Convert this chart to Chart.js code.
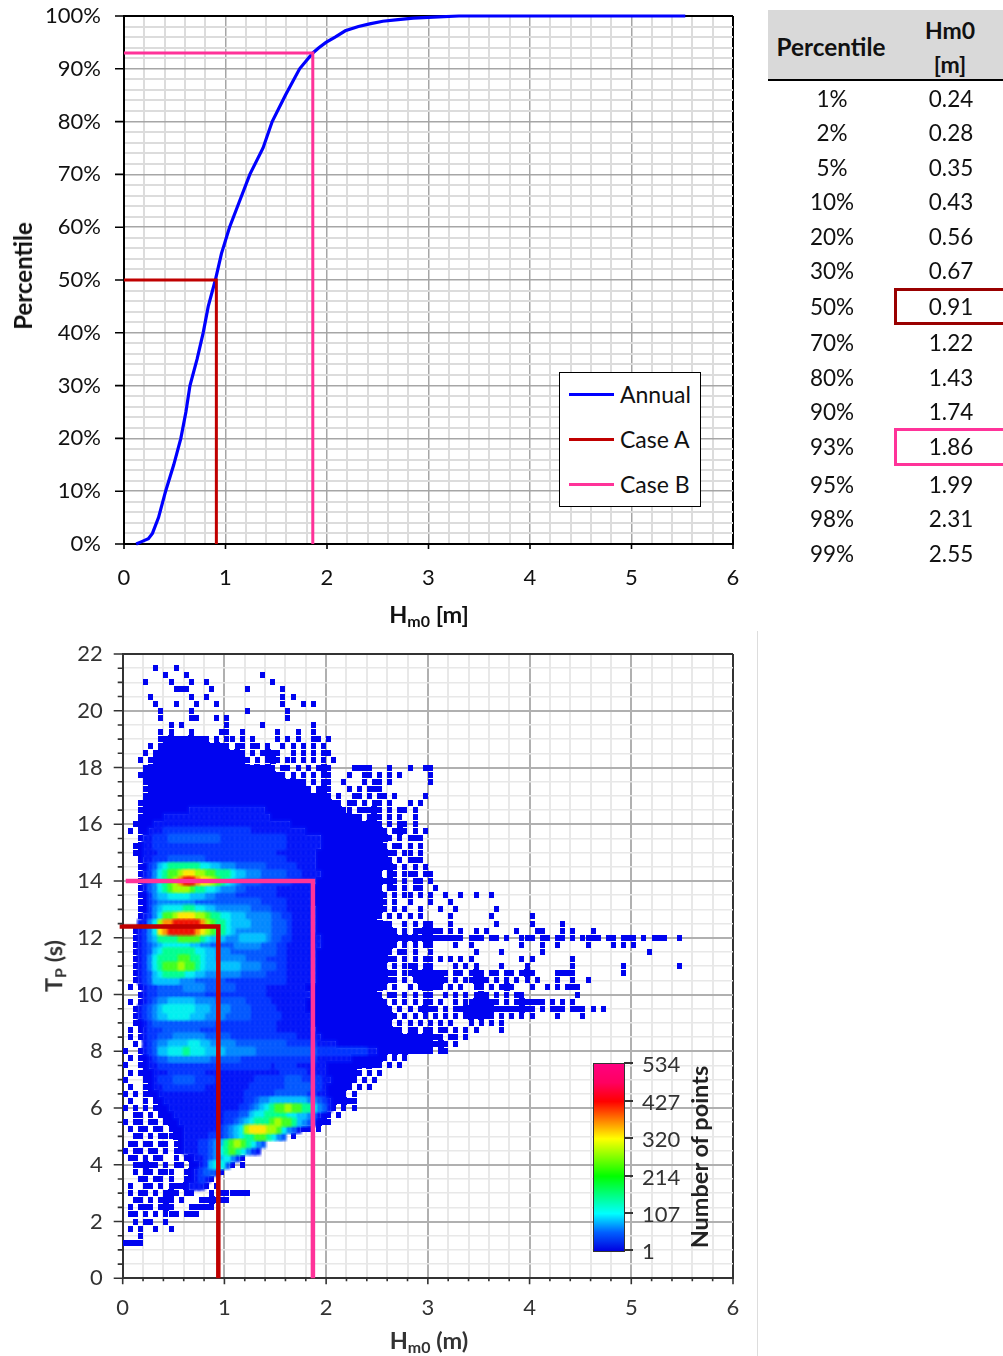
<!DOCTYPE html>
<html><head><meta charset="utf-8">
<script src="https://cdn.jsdelivr.net/npm/chart.js@4"></script>
<style>
html,body{margin:0;padding:0;background:#fff;overflow:hidden}
#page{position:relative;width:1003px;height:1356px;font-family:Lato,sans-serif;color:#111;overflow:hidden}
canvas.c{position:absolute;left:0}
.t{position:absolute;white-space:nowrap;line-height:1}
.ctr{transform:translate(-50%,-50%)}
.rot{transform:translate(-50%,-50%) rotate(-90deg)}
b{font-weight:700}
sub{font-size:.68em;vertical-align:baseline;position:relative;top:.28em}
</style></head><body><div id="page">
<canvas class="c" id="cdf" width="1003" height="630" style="top:0;width:1003px;height:630px"></canvas>
<canvas class="c" id="den" width="1003" height="726" style="top:630px;width:1003px;height:726px"></canvas>
</div>
<script>
// ---- data ----
const annualHm0 = [0.12,0.18,0.24,0.28,0.34,0.41,0.49,0.56,0.61,0.65,0.72,0.78,0.83,0.9,0.96,1.04,1.14,1.24,1.37,1.46,1.59,1.73,1.86,1.92,1.99,2.08,2.18,2.31,2.42,2.55,2.7,2.85,3.05,3.3,4.5,5.53];
const annualPct = [0,0.5,1,2,5,10,15,20,25,30,35,40,45,50,55,60,65,70,75,80,85,90,93,94,95,96,97.2,98,98.5,99,99.3,99.6,99.8,100,100,100];
const caseAHm0 = [0,0.91,0.91], caseAPct = [50,50,0];
const caseBHm0 = [0,1.86,1.86], caseBPct = [93,93,0];
const caseATpHm0 = [-0.03,0.94,0.94], caseATp = [12.4,12.4,0];
const caseBTpHm0 = [0.03,1.87,1.87], caseBTp = [14,14,0];
const tablePercentiles = ['1%','2%','5%','10%','20%','30%','50%','70%','80%','90%','93%','95%','98%','99%'];
const tableHm0 = ['0.24','0.28','0.35','0.43','0.56','0.67','0.91','1.22','1.43','1.74','1.86','1.99','2.31','2.55'];
const colorbarLabels = ['534','427','320','214','107','1'];
// density classes; one row per 0.25 s of Tp from 21.5 s down, one column per 0.05 m of Hm0, '.' = empty
const densityTopTp = 21.5, densityTpStep = 0.25, densityHm0Step = 0.05;
const densityRows = [
"......1... 1",
"........1. ..1....... .......1",
"....1....1 ...1..1... .........1",
".......... 111....1.. ....1..... .1",
".....1.... ...1..1... .......... .1.1",
"......1... 1...1...1. .......... .1...1.1",
".......1.. ...1...... ....1..... ..1",
".......1.. ...11...1. 1......... ..1",
".........1 .1........ 1......1.. .......1",
".......1.1 ...1.....1 1..1...... 1...1..1",
".......111 1111111.1. 11.1.1.... 1.1.1..11. 1",
".....1.111 1111111111 1.11.11.1. .1.1.1.1.1",
"....1.1111 1111111111 1111.1.111 1..1.1.1.1 1",
"...1.11111 1111111111 11111.1.11 1.11.1.1.1 .1",
"....111111 1111111111 1111111111 .11.1.1.11 1....1111. ..1...1..1 1",
"...1111111 1111111111 1111111111 11.1.1.1.1 1...1..11. 1.1.1..... 1",
"....111111 1111111111 1111111111 111111.1.1 1..1...1.1 1.1....... 1",
"....111111 1111111111 1111111111 1111111.11 1...1.1.11 1.........",
"....111111 1111111111 1111111111 1111111111 1.1..11.1. 11.1.....1",
"...1111111 1111111111 1111111111 1111111111 111.11.1.1 1.1...1.1.",
"...1111111 1112222222 2222222211 1111111111 11111.1111 1.1.11.1..",
"...1111122 2222222222 2222222221 1111111111 1111111.11 1.1.1..1..",
"..11112222 2222222222 2222222222 2221111111 1111111111 1.1.11.1..",
".1.1122233 3333333333 3333322222 2222221111 1111111111 11.111.1.1",
"...1223334 4444444443 3333333333 3322222221 1111111111 111.1.111.",
"..11223333 3333333333 3333333333 3322222221 1111111111 11.11.1.1.",
"..11222333 3333333333 3333333333 2222222211 1111111111 1111.11.1.",
"...1223334 4444443333 3333333333 3322222211 1111111111 111.1.111.",
"...1134678 8888877665 5544444433 3333222211 1111111111 1111.1.1.1",
"...1235789 9abbaa9988 8766555444 4433322221 1111111111 1.11.111.1 1",
"...1235789 acddcbba98 7654444333 3332222211 1111111111 1111.1.11. 1",
"...1245789 aaa9887765 5544333333 2222222111 1111111111 1.11.1.11. .1",
"...1135667 7776665544 4433333333 2222222111 1111111111 11.1.11.1. 1..1..1..1 ..1",
"...1134555 5555444444 4444444333 3322222111 1111111111 11.1..1... 1...1.....",
"...1135677 7788776655 5555544443 3322222211 1111111111 11.1.1..1. ..1..1.... ...1",
"...1235799 abbbaa9887 7666555554 4332222211 1111111111 1.1.1.1.1. ....1..... ..1....... 1",
"...2257acc dddddca988 7666655554 4432222211 1111111111 111..1.1.1 1...1..... ...1...... 1.....1...",
"..12357bcd ddddcba988 7655555554 4432222211 1111111111 1111.1.111 111.1.1..1 .1.....1.. .11...1.1. ..1.......",
"..12356888 8999987666 5556666654 4332222221 1111111111 1111111111 1111111.11 1.11.1..11 1.11.11.1. 1111.11.11 1.1.111..1",
"..12345677 7776655444 4455555444 3322222221 1111111111 1111.1.1.1 1....1..1. ........1. ..1..1.... .1....1.1. 1",
"..12346788 8888776655 5444444444 3322222211 1111111111 111.11.1.. 1........1 ....1..... ..1....... .......... ...1",
"..12357888 8998876655 5555444433 3322222211 1111111111 1111.1.1.1 1.1.1.1.1. ........1. 1.......1.",
"..12357899 9a99876666 6665555444 3322222211 1111111111 11.1.111.1 1....1.1.1 ....1....1 ........1. ........1. .........1",
"..12346788 8877665555 5554444433 3322222211 1111111111 1111.11111 1111.11.11 1.11.11.11 1....1111. ........1.",
"..12346666 6555444444 3333333333 3322222211 1111111111 1111.1.111 1111.1.111 11.1.1.1.1 .1...1..1. .1",
".1.1233444 4455554444 4433333322 2222221111 1111111111 11.1..1.11 111.1.1..1 1.1.111... 1..1.1.111",
"...1233444 4444443333 3333333322 2222222111 1111111111 1.11.1.1.1 1..1.1.1.1 11.1.1.11. .........1",
".1.1234556 6666555544 4444333332 2222221111 1111111111 11.1.1.1.1 1.1..1.111 1111.1.111 111.1.1.1.",
"..12345677 7777666555 5444433333 2222221111 1111111111 111.1.1.11 11.1.11111 1111111111 1.1.111.11 1.1.1",
"..12345667 7776665555 4444433333 3222222111 1111111111 1111.1.1.1 .1.1.1.111 111.1.1.1. 1....1.... 1",
"..11234444 4444444433 3333333333 2222222111 1111111111 111.1.1.1. 1.1.1...1. 1.1.1",
".1.1233344 4444433333 3333333333 2222222211 1111111111 11111.11.1 1.11.1.1.1 ....1",
".1.1233444 5555554444 4333333333 3333222221 1111111111 1111111111 111.11.1",
"..1.234556 6667766555 5544444444 4433333322 2211111111 1111111111 1111.1",
"1..1234667 7787776666 5555554444 4444444433 3333333322 1111111111 1.11",
".1.1123445 5555555444 4443333333 3333333322 2222211111 11.1.1",
"1..1122333 3333333333 3333333332 3333222222 1111111111 1.1.1",
".1.1112223 3333332222 2222222222 2333332222 1111111.1. 1",
"1...112333 4444333322 2222223333 3344433332 211111.1.1",
".1..112233 3333332222 2222233333 3344444332 11111.1.1.",
"1.1.111222 2222222222 2222333333 4444443322 1111.1",
".1..1.1122 2222222222 2222334556 6666665543 211111",
"1.1.1.1112 2222222222 2223345678 99a9988754 21.1.1",
"..11.1.111 2222222222 3334467788 8877665421 1.1",
"1.11.11.11 1222222222 3345678889 a998654211 1",
".1.11.11.1 1122222223 4567abbbaa 9754211.1.",
"..11.1.111 1122222333 4567889987 54.1",
".11.11.11. 1122233456 89a98754",
"1.11.11.1. 1122233457 8987532",
".11.1.11.. 1.11223456 7531",
"..11111.1. 11.1123677 41.1",
"..1.11.111 ..11234431",
"...11.11.1 ..112321",
".1..11.1.1 1112221.1.",
".1.11.1.11 1.11...1.1 11111",
"..11.1.111 .1...11111 1",
".1.111.111 ...11111",
".11.1.1.11 1.111",
"..1.11..1.",
".1.1..1..1",
"...1",
"1111"
];
// ---- styling ----
const levelCodes = '123456789abcd';
const levelColors = ['#0004f0','#0014f8','#0034ff','#0058ff','#0088ff','#00c0ff','#00f0f0','#00ff90','#40ff20','#a0ff00','#ffe800','#ff9000','#f01000'];
const FONT = 'Lato, sans-serif';
const page = document.getElementById('page');

function cellImage(color, kind){
  const c = document.createElement('canvas');
  const g = c.getContext('2d');
  if (kind==='soft'){ c.width=10; c.height=12; g.filter='blur(0.8px)'; g.fillStyle=color; g.fillRect(1.5,1.5,7,9); }
  else if (kind==='dot'){ c.width=5; c.height=6; g.fillStyle=color; g.fillRect(0,0,5,6); }
  else { c.width=6; c.height=8; g.fillStyle=color; g.fillRect(0,0,6,8); }
  return c;
}
const near = (v,m) => Math.abs(v/m - Math.round(v/m)) < 1e-6;
const tickPlugin = {
  id:'axisTicks',
  afterDraw(chart, args, o){
    const {ctx, chartArea:a, scales:{x,y}} = chart;
    ctx.save(); ctx.strokeStyle = o.color; ctx.lineWidth = 1.6;
    ctx.beginPath();
    x.ticks.forEach(t => { const major = near(t.value,1), len = major ? o.xMajor : o.xMinor;
      if (!len) return; const p = x.getPixelForValue(t.value); ctx.moveTo(p,a.bottom); ctx.lineTo(p,a.bottom+len); });
    y.ticks.forEach(t => { const major = near(t.value,o.yEvery), len = major ? o.yMajor : o.yMinor;
      if (!len) return; const p = y.getPixelForValue(t.value); ctx.moveTo(a.left,p); ctx.lineTo(a.left-len,p); });
    ctx.stroke(); ctx.restore();
  }
};
function axis(min,max,step,every,lab,o){
  const isEdge = v => Math.abs(v-min)<1e-6 || Math.abs(v-max)<1e-6;
  return {
    type:'linear', min, max,
    ticks:{stepSize:step, autoSkip:false, maxRotation:0, padding:o.pad, color:o.color,
      font:{family:FONT,size:o.size},
      callback:v => near(v,every) ? lab(Math.round(v)) : ''},
    grid:{drawTicks:false,
      color:c => isEdge(c.tick.value) ? o.frame : near(c.tick.value,every) ? o.major : o.minor,
      lineWidth:c => isEdge(c.tick.value) ? 2 : near(c.tick.value,every) ? o.majorW : o.minorW},
    border:{display:true,color:o.frame,width:2},
    afterFit:s => { if (o.w) s.width=o.w; if (o.h) s.height=o.h; s.paddingTop=0; s.paddingBottom=0; s.paddingLeft=0; s.paddingRight=0; }
  };
}
function line(label,xs,ys,color,width){
  return {type:'line',label,data:xs.map((x,i)=>({x,y:ys[i]})),borderColor:color,borderWidth:width,
    pointRadius:0,tension:0,fill:false,clip:false,order:0,borderJoinStyle:'miter',borderCapStyle:'butt'};
}
// ---- chart 1 ----
new Chart(document.getElementById('cdf'),{
  type:'scatter',
  data:{datasets:[
    line('Case B',caseBHm0,caseBPct,'#ff3399',3),
    line('Case A',caseAHm0,caseAPct,'#c00000',3),
    line('Annual',annualHm0,annualPct,'#0000ff',3.2)
  ]},
  options:{responsive:false,animation:false,
    layout:{padding:{left:0,right:270,top:16,bottom:0}},
    plugins:{legend:{display:false},tooltip:{enabled:false},
      axisTicks:{color:'#000',xMajor:5,xMinor:0,yMajor:9,yMinor:0,yEvery:10}},
    scales:{
      x:axis(0,6,0.2,1,v=>String(v),{pad:21,color:'#111',size:22,frame:'#000',major:'#a6a6a6',minor:'#dcdcdc',majorW:1.5,minorW:2,h:86}),
      y:axis(0,100,2,10,v=>v+'%',{pad:23,color:'#111',size:22,frame:'#000',major:'#a6a6a6',minor:'#dcdcdc',majorW:1.5,minorW:2,w:124})
    }},
  plugins:[tickPlugin]
});
// ---- chart 2 ----
const cellGrid = densityRows.map(r => r.replace(/ /g,''));
const filled = (r,c) => r>=0 && r<cellGrid.length && c>=0 && c<cellGrid[r].length && cellGrid[r][c]!=='.';
const cellsByLevel = levelCodes.split('').map(()=>[]);
const looseCells = [];
cellGrid.forEach((row,r)=>{
  row.split('').forEach((ch,c)=>{
    const lv = levelCodes.indexOf(ch);
    if (lv<0) return;
    const p = {x:(c+0.5)*densityHm0Step, y:densityTopTp-r*densityTpStep};
    const solid = filled(r,c-1)&&filled(r,c+1)&&filled(r-1,c)&&filled(r+1,c);
    (lv===0 && !solid ? looseCells : cellsByLevel[lv]).push(p);
  });
});
const cellSets = cellsByLevel.map((pts,i)=>({
  type:'scatter',label:'class '+levelCodes[i],data:pts,pointStyle:cellImage(levelColors[i],i>0?'soft':'solid'),
  pointRadius:3,pointHoverRadius:3,showLine:false,order:30-i
}));
cellSets.push({type:'scatter',label:'sparse',data:looseCells,pointStyle:cellImage(levelColors[0],'dot'),pointRadius:3,showLine:false,order:31});
new Chart(document.getElementById('den'),{
  type:'scatter',
  data:{datasets:[
    line('Case B',caseBTpHm0,caseBTp,'#ff3399',4.5),
    line('Case A',caseATpHm0,caseATp,'#c00000',4.5),
    ...cellSets
  ]},
  options:{responsive:false,animation:false,
    layout:{padding:{left:0,right:270,top:24,bottom:0}},
    plugins:{legend:{display:false},tooltip:{enabled:false},
      axisTicks:{color:'#333',xMajor:6,xMinor:3,yMajor:9,yMinor:5,yEvery:2}},
    scales:{
      x:axis(0,6,0.2,1,v=>String(v),{pad:16,color:'#333',size:22,frame:'#333',major:'#b0b0b0',minor:'#e8e8e8',majorW:2,minorW:2,h:77.7}),
      y:axis(0,22,0.5,2,v=>String(v),{pad:20,color:'#333',size:22,frame:'#333',major:'#b0b0b0',minor:'#e8e8e8',majorW:2,minorW:1.5,w:122.7})
    }},
  plugins:[tickPlugin]
});
// ---- html text, legend, table, colour bar ----
function add(html,css,cls){ const d=document.createElement('div'); d.className=cls||'t'; d.innerHTML=html; d.style.cssText=css; page.appendChild(d); return d; }
add('<b>Percentile</b>','left:23px;top:276px;font-size:24px;color:#111','t rot');
add('<b>H<sub>m0</sub> [m]</b>','left:429px;top:615px;font-size:23.5px;color:#111','t ctr');
add('<b>T<sub>P</sub> (s)</b>','left:54px;top:966px;font-size:23.5px;color:#333','t rot');
add('<b>H<sub>m0</sub> (m)</b>','left:429px;top:1341px;font-size:23.5px;color:#333','t ctr');
// legend
add('','left:559px;top:372px;width:140px;height:133px;background:#fff;border:1.5px solid #000');
[['Annual','#0000ff',394],['Case A','#c00000',439],['Case B','#ff3399',484]].forEach(([n,c,y])=>{
  add('',`left:569px;top:${y-1.5}px;width:45px;height:3px;background:${c}`);
  add(n,`left:620px;top:${y}px;font-size:23px;color:#111;transform:translateY(-50%)`);
});
// table
add('','left:768px;top:10px;width:235px;height:69px;background:#d9d9d9');
add('','left:768px;top:79px;width:235px;height:2px;background:#000');
add('<b>Percentile</b>','left:831px;top:47px;font-size:24.3px;color:#111','t ctr');
add('<b>Hm0</b>','left:950px;top:30px;font-size:23px;color:#111','t ctr');
add('<b>[m]</b>','left:950px;top:64px;font-size:23px;color:#111','t ctr');
const rowCenters=[99,133,168,202,237,271,307,343,378,412,447,485,519,554];
tablePercentiles.forEach((p,i)=>{
  add(p,`left:832px;top:${rowCenters[i]}px;font-size:22.5px;color:#111`,'t ctr');
  add(tableHm0[i],`left:951px;top:${rowCenters[i]}px;font-size:22.5px;color:#111`,'t ctr');
});
add('','left:894px;top:288px;width:115px;height:31px;border:3.5px solid #990000');
add('','left:894px;top:428px;width:115px;height:32px;border:3.5px solid #ff3399');
add('','left:757px;top:631px;width:1px;height:725px;background:#ddd');
// colour bar
add('','left:593px;top:1063px;width:30px;height:187px;border:1px solid #333;background:linear-gradient(to top,#0000e0 0%,#0060ff 10%,#00ffff 20%,#00ff80 30%,#00ff00 40%,#80ff00 50%,#ffff00 60%,#ff8000 70%,#ff0000 80%,#ff0060 90%,#ff0080 100%)');
[1063,1101,1138,1176,1213,1250].forEach((y,i)=>{
  add('',`left:624px;top:${y-1}px;width:9px;height:2px;background:#333`);
  add(colorbarLabels[i],`left:642px;top:${y+1}px;font-size:22px;color:#333;transform:translateY(-50%)`);
});
add('<b>Number of points</b>','left:700px;top:1157px;font-size:23.5px;color:#222','t rot');
</script></body></html>
